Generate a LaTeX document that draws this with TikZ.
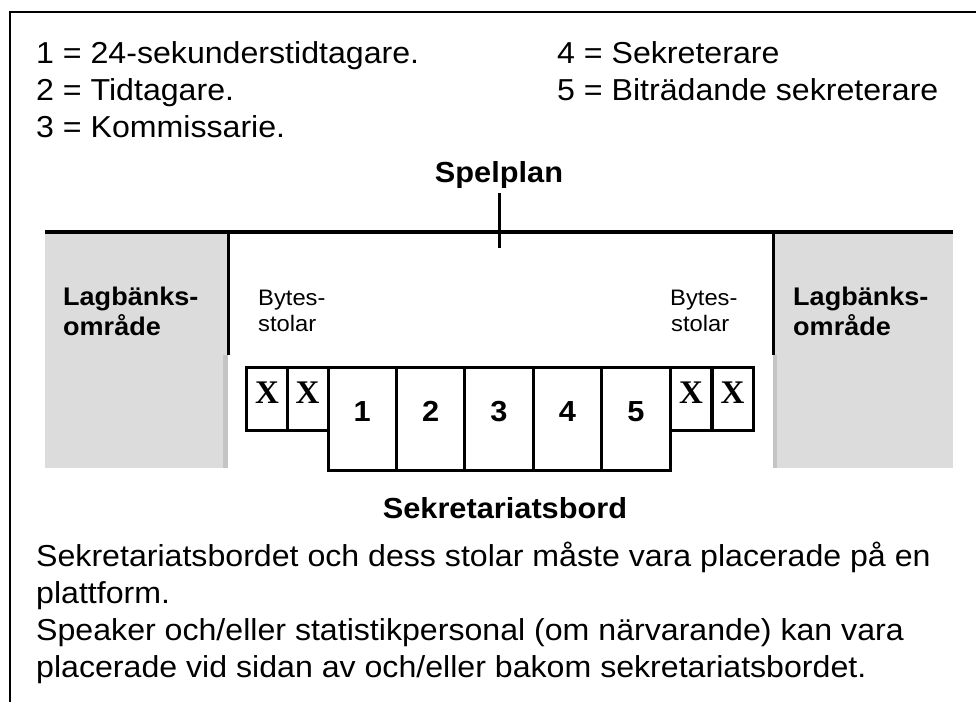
\documentclass[tikz,border=0pt]{standalone}
\usepackage{fontspec}
\setmainfont{Liberation Sans}[FakeStretch=1.06]
\newfontfamily\xserif{Liberation Serif}
\definecolor{benchgray}{HTML}{DCDCDC}
\definecolor{benchedge}{HTML}{C4C4C4}
\begin{document}
\begin{tikzpicture}[x=1pt,y=-1pt,
  txt/.style={anchor=base west,inner sep=0,font=\fontsize{30.3}{37}\selectfont},
  ttl/.style={anchor=base,inner sep=0,font=\fontsize{29}{34}\selectfont\bfseries},
  benchtxt/.style={anchor=base west,inner sep=0,font=\fontsize{25.5}{30}\selectfont\bfseries},
  chairtxt/.style={anchor=base west,inner sep=0,font=\fontsize{22.4}{26}\selectfont},
  seatbox/.style={draw,line width=3pt,inner sep=0,minimum width=41pt,minimum height=63pt},
  tablebox/.style={draw,line width=3pt,inner sep=0,minimum width=68.4pt,minimum height=103pt},
  numlbl/.style={anchor=base,inner sep=0,font=\fontsize{29}{30}\selectfont\bfseries},
  xlbl/.style={anchor=base,inner sep=0,font=\xserif\fontsize{33}{34}\selectfont\bfseries},
  heavy/.style={line width=3.5pt},
  frame/.style={line width=2pt}]
\useasboundingbox (0,0) rectangle (976,702);
\fill[white] (0,0) rectangle (976,702);
% frame
\coordinate (fbl) at (10,702);
\coordinate (ftl) at (10,12);
\coordinate (ftr) at (976,12);
\draw[frame] (fbl) -- (ftl) -- (ftr);
% legend
\node[txt] (l1) at (36,63) {1 = 24-sekunderstidtagare.};
\node[txt] (l2) at (36,100) {2 = Tidtagare.};
\node[txt] (l3) at (36,137) {3 = Kommissarie.};
\node[txt] (l4) at (557,63) {4 = Sekreterare};
\node[txt] (l5) at (557,100) {5 = Biträdande sekreterare};
% Spelplan
\node[ttl] (spel) at (499,182) {Spelplan};
% bench areas
\fill[benchgray] (45,233) rectangle (228,468);
\fill[benchedge] (223,355) rectangle (228,468);
\fill[benchgray] (773,233) rectangle (953,468);
\fill[benchedge] (773,355) rectangle (777,468);
\node[benchtxt] (lb1) at (63,305) {Lagbänks-};
\node[benchtxt] (lb2) at (63,335) {område};
\node[benchtxt] (rb1) at (793,305) {Lagbänks-};
\node[benchtxt] (rb2) at (793,335) {område};
% substitution chairs labels
\node[chairtxt] (lc1) at (258,305) {Bytes-};
\node[chairtxt] (lc2) at (258,331) {stolar};
\node[chairtxt] (rc1) at (670,305) {Bytes-};
\node[chairtxt] (rc2) at (671,331) {stolar};
% lines
\coordinate (tickTop) at (499,193);
\coordinate (tickBot) at (499,248);
\coordinate (lineL) at (45,232);
\coordinate (lineR) at (953,232);
\coordinate (divLt) at (228,232);
\coordinate (divLb) at (228,355);
\coordinate (divRt) at (773,232);
\coordinate (divRb) at (773,355);
\draw[heavy] (lineL) -- (lineR);
\draw[line width=3pt] (tickTop) -- (tickBot);
\draw[line width=3pt] (divLt) -- (divLb);
\draw[line width=3pt] (divRt) -- (divRb);
% chairs
\node[seatbox] (x1) at (267,398.5) {};
\node[seatbox] (x2) at (307.5,398.5) {};
\node[seatbox] (x3) at (691,398.5) {};
\node[seatbox] (x4) at (732.5,398.5) {};
\node[xlbl] (xl1) at (267,403) {X};
\node[xlbl] (xl2) at (307.5,403) {X};
\node[xlbl] (xl3) at (691,403) {X};
\node[xlbl] (xl4) at (732.5,403) {X};
% table
\node[tablebox] (t1) at (362.2,418.5) {};
\node[tablebox] (t2) at (430.6,418.5) {};
\node[tablebox] (t3) at (499,418.5) {};
\node[tablebox] (t4) at (567.4,418.5) {};
\node[tablebox] (t5) at (635.8,418.5) {};
\node[numlbl] (n1) at (362.2,421) {1};
\node[numlbl] (n2) at (430.6,421) {2};
\node[numlbl] (n3) at (499,421) {3};
\node[numlbl] (n4) at (567.4,421) {4};
\node[numlbl] (n5) at (635.8,421) {5};
% title below
\node[ttl] (sek) at (505,518) {Sekretariatsbord};
% paragraph
\node[txt] (p1) at (36,566) {Sekretariatsbordet och dess stolar måste vara placerade på en};
\node[txt] (p2) at (36,603) {plattform.};
\node[txt] (p3) at (36,640) {Speaker och/eller statistikpersonal (om närvarande) kan vara};
\node[txt] (p4) at (36,677) {placerade vid sidan av och/eller bakom sekretariatsbordet.};
\end{tikzpicture}
\end{document}
